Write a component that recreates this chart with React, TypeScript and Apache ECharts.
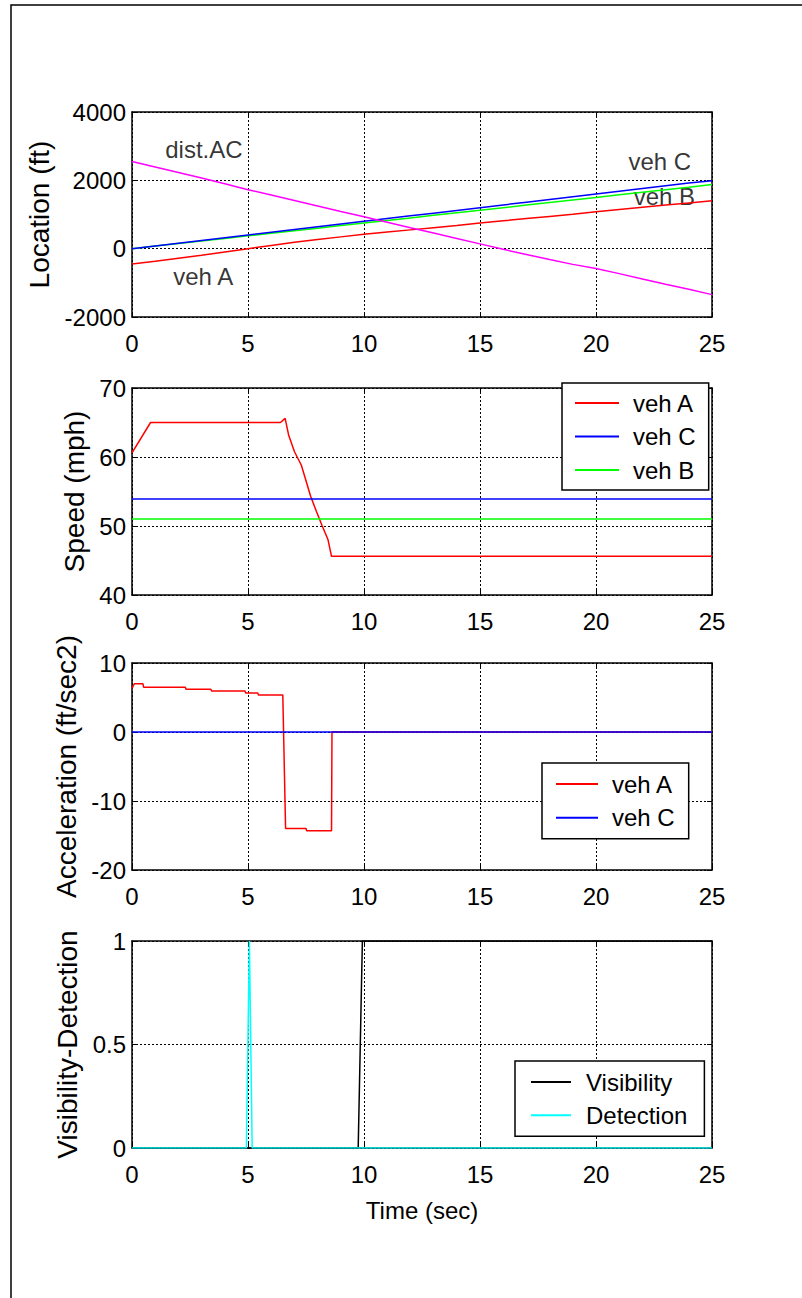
import React, { useEffect, useRef } from "react";
import * as echarts from "echarts";

// ---------- Panel 1: Location (ft) ----------
const LOC_T = [0, 1, 2, 3, 4, 5, 6, 7, 8, 9, 10, 11, 12, 13, 14, 15, 16, 17, 18, 19, 20, 21, 22, 23, 24, 25];
const LOC_A = [-450, -370, -280, -190, -95, 0, 95, 185, 270, 345, 420, 485, 550, 615, 680, 750, 815, 880, 945, 1010, 1080, 1145, 1210, 1275, 1340, 1405];
const LOC_C = [0, 80, 160, 240, 320, 400, 480, 560, 640, 720, 800, 880, 960, 1040, 1120, 1200, 1280, 1360, 1440, 1520, 1600, 1680, 1760, 1840, 1920, 1990];
const LOC_B = [0, 75, 150, 225, 300, 375, 450, 525, 600, 675, 750, 825, 900, 975, 1050, 1125, 1200, 1275, 1350, 1425, 1500, 1575, 1650, 1725, 1800, 1880];
const LOC_DIST = [2550, 2390, 2230, 2070, 1900, 1725, 1570, 1410, 1250, 1090, 935, 775, 615, 460, 300, 140, -20, -170, -320, -460, -580, -730, -885, -1040, -1190, -1345];
const LOC_LABELS = ["dist.AC", "veh C", "veh B", "veh A"];
const LOC_LABEL_T = [3.1, 22.75, 22.95, 3.07];
const LOC_LABEL_V = [2900, 2550, 1530, -810];

// ---------- Panel 2: Speed (mph) ----------
const SPD_A_T = [0, 0.8, 6.4, 6.6, 6.75, 7.0, 7.3, 7.7, 7.95, 8.2, 8.45, 8.6, 25];
const SPD_A_V = [60.6, 65, 65, 65.6, 63.2, 60.8, 58.8, 54.3, 52.1, 50.0, 48.0, 45.6, 45.6];
const SPD_C_T = [0, 25];
const SPD_C_V = [53.9, 53.9];
const SPD_B_T = [0, 25];
const SPD_B_V = [51.0, 51.0];

// ---------- Panel 3: Acceleration (ft/sec2) ----------
const ACC_A_T = [0, 0.1, 0.47, 0.5, 2.3, 2.33, 3.4, 3.43, 4.87, 4.9, 5.42, 5.45, 6.5, 6.62, 7.5, 7.53, 8.6, 8.62, 25];
const ACC_A_V = [6.3, 7.0, 7.0, 6.5, 6.5, 6.2, 6.2, 5.95, 5.95, 5.66, 5.66, 5.37, 5.37, -14.0, -14.0, -14.3, -14.3, 0, 0];
const ACC_C_T = [0, 25];
const ACC_C_V = [0, 0];

// ---------- Panel 4: Visibility-Detection ----------
const VIS_T = [0, 9.75, 9.93, 25];
const VIS_V = [0, 0, 1, 1];
const DET_T = [0, 4.93, 5.06, 5.18, 25];
const DET_V = [0, 0, 1, 0, 0];

const X_MIN = 0;
const X_MAX = 25;
const X_INT = 5;

const FONT = "'Liberation Sans', Arial, Helvetica, sans-serif";

const zip = (t: number[], v: number[]) => t.map((x, i) => [x, v[i]]);

const RED = "#ff0000";
const BLUE = "#0000ff";
const GREEN = "#00ff00";
const MAGENTA = "#ff00ff";
const CYAN = "#00ffff";
const BLACK = "#000000";

const GRIDS = [
  { left: 132, top: 112, width: 580, height: 205 },
  { left: 132, top: 388, width: 580, height: 207 },
  { left: 132, top: 663, width: 580, height: 207 },
  { left: 132, top: 941, width: 580, height: 207 },
];

function makeX(gi: number, name?: string) {
  const common = {
    type: "value" as const,
    gridIndex: gi,
    min: X_MIN,
    max: X_MAX,
    interval: X_INT,
    axisLine: { show: true, onZero: false, lineStyle: { color: BLACK, width: 1.5 } },
    axisTick: { show: true, inside: true, length: 5, lineStyle: { color: BLACK, width: 1 } },
  };
  return [
    {
      ...common,
      position: "bottom",
      axisLabel: { show: true, margin: 14, color: BLACK, fontSize: 24, fontFamily: FONT, formatter: (v: number) => String(v) },
      splitLine: { show: true, lineStyle: { color: BLACK, width: 1, type: [2, 2] } },
      name: name || "",
      nameLocation: "middle",
      nameGap: 50,
      nameTextStyle: { color: BLACK, fontSize: 24, fontFamily: FONT },
    },
    {
      ...common,
      position: "top",
      axisLabel: { show: false },
      splitLine: { show: false },
    },
  ];
}

function makeY(gi: number, min: number, max: number, interval: number, name: string, nameGap: number) {
  const common = {
    type: "value" as const,
    gridIndex: gi,
    min,
    max,
    interval,
    axisLine: { show: true, onZero: false, lineStyle: { color: BLACK, width: 1.5 } },
    axisTick: { show: true, inside: true, length: 5, lineStyle: { color: BLACK, width: 1 } },
  };
  return [
    {
      ...common,
      position: "left",
      axisLabel: { show: true, margin: 6, color: BLACK, fontSize: 24, fontFamily: FONT, formatter: (v: number) => String(v) },
      splitLine: { show: true, lineStyle: { color: BLACK, width: 1, type: [2, 2] } },
      name,
      nameLocation: "middle",
      nameRotate: 90,
      nameGap,
      nameTextStyle: { color: BLACK, fontSize: 28, fontFamily: FONT },
    },
    {
      ...common,
      position: "right",
      axisLabel: { show: false },
      splitLine: { show: false },
    },
  ];
}

function line(name: string, gi: number, data: number[][], color: string) {
  return {
    type: "line" as const,
    name,
    xAxisIndex: gi * 2,
    yAxisIndex: gi * 2,
    data,
    symbol: "none",
    showSymbol: false,
    lineStyle: { color, width: 1.5 },
    itemStyle: { color },
    silent: true,
  };
}

function legendBox(names: string[], left: number, top: number, padding: number[], itemWidth: number, itemGap: number, textPad: number) {
  return {
    show: true,
    data: names.map((n) => ({ name: n, icon: "rect" })),
    orient: "vertical",
    left,
    top,
    padding,
    itemWidth,
    itemHeight: 2,
    itemGap,
    selectedMode: false,
    borderColor: BLACK,
    borderWidth: 1.5,
    backgroundColor: "#ffffff",
    textStyle: { color: BLACK, fontSize: 24, lineHeight: 24, fontFamily: FONT, padding: [0, 0, 0, textPad] },
  };
}

export default function App() {
  const ref = useRef<HTMLDivElement>(null);

  useEffect(() => {
    if (!ref.current) return;
    const chart = echarts.init(ref.current, undefined, { renderer: "svg" });

    const labelData = LOC_LABELS.map((n, i) => ({ name: n, value: [LOC_LABEL_T[i], LOC_LABEL_V[i]] }));

    const option: any = {
      animation: false,
      backgroundColor: "#ffffff",
      textStyle: { fontFamily: FONT },
      grid: GRIDS.map((g) => ({ ...g, containLabel: false })),
      xAxis: [...makeX(0), ...makeX(1), ...makeX(2), ...makeX(3, "Time (sec)")],
      yAxis: [
        ...makeY(0, -2000, 4000, 2000, "Location (ft)", 60),
        ...makeY(1, 40, 70, 10, "Speed (mph)", 36),
        ...makeY(2, -20, 10, 10, "Acceleration (ft/sec2)", 46),
        ...makeY(3, 0, 1, 0.5, "Visibility-Detection", 46),
      ],
      legend: [
        legendBox(["veh A", "veh C", "veh B"], 562, 383, [8, 13, 8, 13], 44, 9.5, 9),
        legendBox(["veh A", "veh C"], 542, 763, [9, 14, 9, 14], 42, 9.7, 9),
        legendBox(["Visibility", "Detection"], 515, 1061, [9, 17, 9, 16], 40, 9.3, 10),
      ],
      series: [
        line("veh A", 0, zip(LOC_T, LOC_A), RED),
        line("veh B", 0, zip(LOC_T, LOC_B), GREEN),
        line("veh C", 0, zip(LOC_T, LOC_C), BLUE),
        line("dist.AC", 0, zip(LOC_T, LOC_DIST), MAGENTA),
        {
          type: "scatter",
          name: "labels",
          xAxisIndex: 0,
          yAxisIndex: 0,
          data: labelData,
          symbolSize: 0,
          silent: true,
          label: {
            show: true,
            position: "inside",
            formatter: "{b}",
            color: BLACK,
            fontSize: 24,
            fontFamily: FONT,
          },
        },
        line("veh A", 1, zip(SPD_A_T, SPD_A_V), RED),
        line("veh C", 1, zip(SPD_C_T, SPD_C_V), BLUE),
        line("veh B", 1, zip(SPD_B_T, SPD_B_V), GREEN),
        line("veh A", 2, zip(ACC_A_T, ACC_A_V), RED),
        line("veh C", 2, zip(ACC_C_T, ACC_C_V), BLUE),
        line("Visibility", 3, zip(VIS_T, VIS_V), BLACK),
        line("Detection", 3, zip(DET_T, DET_V), CYAN),
      ],
      graphic: [
        {
          type: "rect",
          silent: true,
          z: -1,
          shape: { x: 11, y: 5, width: 800, height: 1300 },
          style: { fill: "none", stroke: BLACK, lineWidth: 1.5 },
        },
      ],
    };

    chart.setOption(option);
    return () => chart.dispose();
  }, []);

  return (
    <div
      ref={ref}
      style={{ position: "absolute", left: 0, top: 0, width: 802, height: 1298 }}
    />
  );
}
